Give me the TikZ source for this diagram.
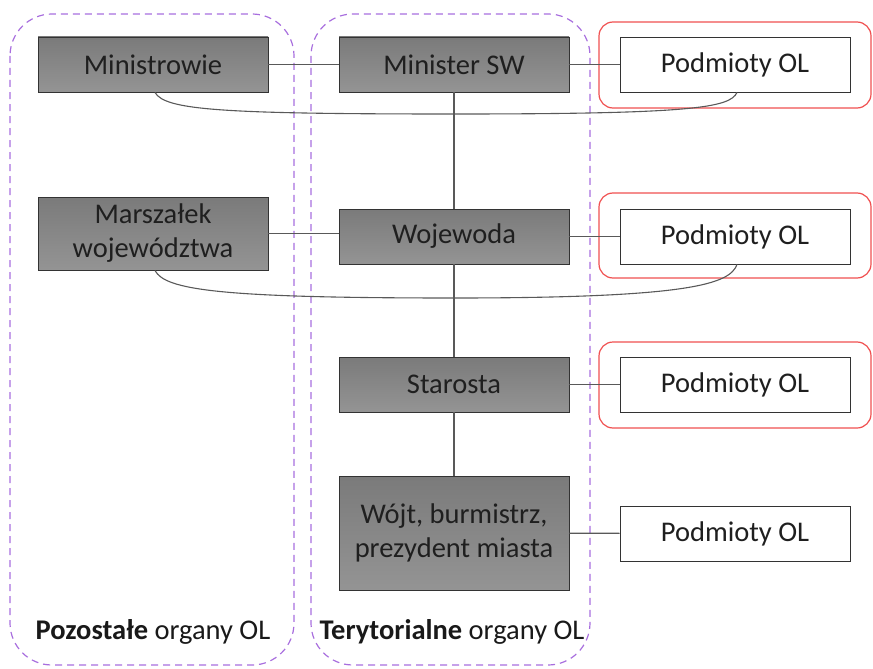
\documentclass[tikz,border=0pt]{standalone}
\usepackage{fontspec}
\setmainfont{Carlito}
\definecolor{frameviolet}{RGB}{168,110,222}
\definecolor{hlred}{RGB}{240,80,80}
\begin{document}
\begin{tikzpicture}[x=1pt,y=-1pt,
  organ/.style={draw=black!80, line width=0.9pt, top color=black!52, bottom color=black!42,
    minimum width=230pt, minimum height=55pt, inner sep=0pt, align=center,
    font=\fontsize{28.5}{34}\selectfont, text=black!88},
  podm/.style={draw=black!80, line width=0.9pt, fill=white,
    minimum width=230pt, minimum height=55pt, inner sep=0pt,
    font=\fontsize{28.5}{34}\selectfont, text=black!88},
  grp/.style={draw=frameviolet, line width=1.2pt, dash pattern=on 7pt off 5pt, rounded corners=42pt},
  hl/.style={draw=hlred, line width=1.2pt, rounded corners=14pt},
  conn/.style={draw=black!65, line width=1.1pt},
  lab/.style={font=\fontsize{28.5}{32}\selectfont, text=black!90}]
\path[use as bounding box] (0,0) rectangle (873,669);
% group frames
\draw[grp] (10,14) rectangle (294,665);
\draw[grp] (311,14) rectangle (590,665);
% highlight frames
\draw[hl] (599,22) rectangle (871,108);
\draw[hl] (599,193) rectangle (871,278);
\draw[hl] (599,342) rectangle (871,428);
% nodes
\node[organ] (mi) at (153,64.5) {Ministrowie};
\node[organ] (msw) at (454,64.5) {Minister SW};
\node[podm] (p1) at (735,64.5) {Podmioty OL};
\node[organ, minimum height=73pt] (mar) at (153,233.5) {Marszałek\\województwa};
\node[organ] (woj) at (454,236.5) {Wojewoda};
\node[podm] (p2) at (735,236.5) {Podmioty OL};
\node[organ] (sta) at (454,384.5) {Starosta};
\node[podm] (p3) at (735,384.5) {Podmioty OL};
\node[organ, minimum height=114pt] (woj2) at (454,533) {Wójt, burmistrz,\\prezydent miasta};
\node[podm] (p4) at (735,533.5) {Podmioty OL};
% connectors
\draw[conn] (mi) -- (msw);
\draw[conn] (msw) -- (p1);
\draw[conn] (mar.east) -- (woj.west |- mar.east);
\draw[conn] (woj) -- (p2);
\draw[conn] (sta) -- (p3);
\draw[conn] (woj2) -- (p4);
\draw[conn] (msw) -- (woj);
\draw[conn] (woj) -- (sta);
\draw[conn] (sta) -- (woj2);
\coordinate (c1a) at (155,92);
\coordinate (c1b) at (737,92);
\draw[conn] (mi.south -| c1a) .. controls (165,110) and (220,114) .. (454,114) .. controls (690,114) and (730,108) .. (p1.south -| c1b);
\draw[conn] (mar.south -| c1a) .. controls (165,290) and (220,298) .. (454,298) .. controls (690,298) and (730,284) .. (p2.south -| c1b);
% labels
\node[lab] (l1) at (153,632) {\textbf{Pozostałe} organy OL};
\node[lab] (l2) at (452,632) {\textbf{Terytorialne} organy OL};
\end{tikzpicture}
\end{document}
